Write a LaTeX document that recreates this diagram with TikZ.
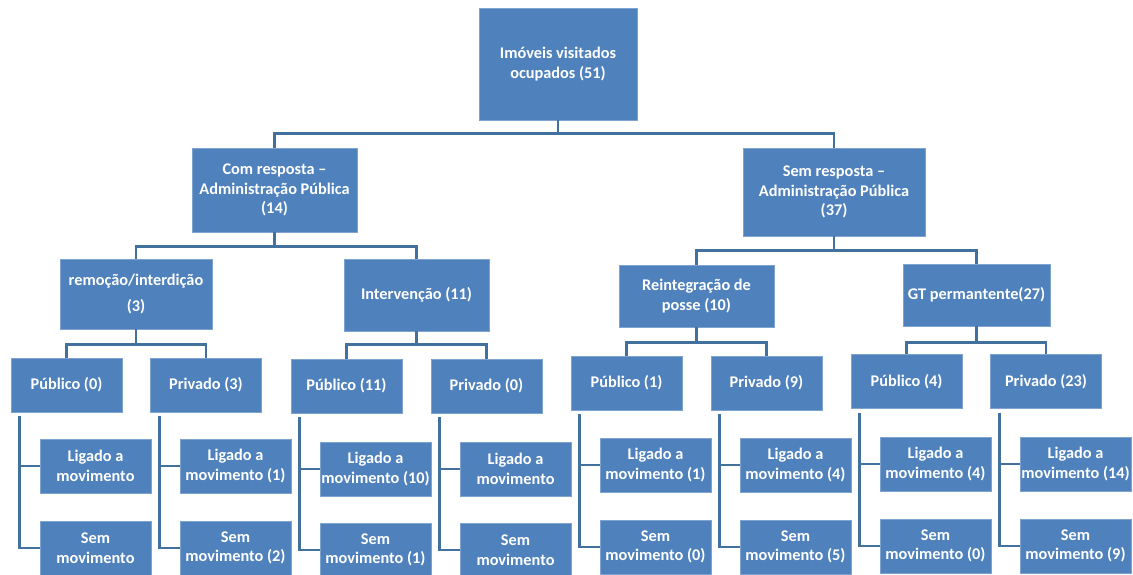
\documentclass[tikz,border=0pt]{standalone}
\usepackage{fontspec}
\setmainfont{Carlito}
\definecolor{boxblue}{HTML}{4F81BD}
\definecolor{edgeblue}{HTML}{7FA3D1}
\definecolor{lineblue}{HTML}{41719C}
\begin{document}
\begin{tikzpicture}[x=1pt,y=-1pt,
  box/.style={draw=edgeblue,line width=0.6pt,fill=boxblue,text=white,align=center,
    inner sep=1pt,font=\bfseries\fontsize{16.3}{19.5}\selectfont},
  small/.style={box,minimum width=111pt,minimum height=54pt},
  link/.style={draw=lineblue,line width=2.6pt}]
\clip (0,0) rectangle (1133,574);
\fill[white] (0,0) rectangle (1133,574);
% level 0
\node[box,minimum width=158pt,minimum height=112pt] (root) at (558,64) {Imóveis visitados\\ocupados (51)};
% level 1
\node[box,minimum width=165pt,minimum height=84pt] (com) at (274.5,190) {Com resposta –\\Administração Pública\\(14)};
\node[box,minimum width=182pt,minimum height=88pt] (sem) at (834,192) {Sem resposta –\\Administração Pública\\(37)};
% level 2
\node[box,minimum width=152pt,minimum height=70pt] (rem) at (136,294) {remoção/interdição\\[6pt](3)};
\node[box,minimum width=145pt,minimum height=72pt] (int) at (416.5,295) {Intervenção (11)};
\node[box,minimum width=155pt,minimum height=62pt] (rei) at (696.5,296) {Reintegração de\\posse (10)};
\node[box,minimum width=147pt,minimum height=62pt] (gt) at (976.5,295) {GT permantente(27)};
% level 3
\node[small] (pa) at (66.5,385) {Público (0)};
\node[small] (va) at (206,385) {Privado (3)};
\node[small] (pb) at (346.5,386) {Público (11)};
\node[small] (vb) at (486.5,386) {Privado (0)};
\node[small] (pc) at (626.5,383) {Público (1)};
\node[small] (vc) at (766.5,383) {Privado (9)};
\node[small] (pd) at (906.5,381.5) {Público (4)};
\node[small] (vd) at (1046,381.5) {Privado (23)};
% leaves
\node[small] (pal) at (95.5,466) {Ligado a\\movimento};
\node[small] (pas) at (95.5,548) {Sem\\movimento};
\node[small] (val) at (235.5,466) {Ligado a\\movimento (1)};
\node[small] (vas) at (235.5,548) {Sem\\movimento (2)};
\node[small] (pbl) at (375.5,469) {Ligado a\\movimento (10)};
\node[small] (pbs) at (375.5,550) {Sem\\movimento (1)};
\node[small] (vbl) at (515.5,469) {Ligado a\\movimento};
\node[small] (vbs) at (515.5,550) {Sem\\movimento};
\node[small] (pcl) at (655.5,465) {Ligado a\\movimento (1)};
\node[small] (pcs) at (655.5,547) {Sem\\movimento (0)};
\node[small] (vcl) at (795.5,465) {Ligado a\\movimento (4)};
\node[small] (vcs) at (795.5,547) {Sem\\movimento (5)};
\node[small] (pdl) at (935.5,464) {Ligado a\\movimento (4)};
\node[small] (pds) at (935.5,546) {Sem\\movimento (0)};
\node[small] (vdl) at (1075.5,464) {Ligado a\\movimento (14)};
\node[small] (vds) at (1075.5,546) {Sem\\movimento (9)};
% connectors
\draw[link] (root.south) -- ++(0,-13pt) -| (com.north);
\draw[link] (root.south) -- ++(0,-13pt) -| (sem.north);
\draw[link] (com.south) -- ++(0,-14pt) -| (rem.north);
\draw[link] (com.south) -- ++(0,-14pt) -| (int.north);
\draw[link] (sem.south) -- ++(0,-14pt) -| (rei.north);
\draw[link] (sem.south) -- ++(0,-14pt) -| (gt.north);
\draw[link] (rem.south) -- ++(0,-15pt) -| (pa.north);
\draw[link] (rem.south) -- ++(0,-15pt) -| (va.north);
\draw[link] (int.south) -- ++(0,-13pt) -| (pb.north);
\draw[link] (int.south) -- ++(0,-13pt) -| (vb.north);
\draw[link] (rei.south) -- ++(0,-15pt) -| (pc.north);
\draw[link] (rei.south) -- ++(0,-15pt) -| (vc.north);
\draw[link] (gt.south) -- ++(0,-16pt) -| (pd.north);
\draw[link] (gt.south) -- ++(0,-16pt) -| (vd.north);
\foreach \p/\a/\b in {pa/pal/pas,va/val/vas,pb/pbl/pbs,vb/vbl/vbs,pc/pcl/pcs,vc/vcl/vcs,pd/pdl/pds,vd/vdl/vds}{
  \draw[link] ([xshift=9pt,yshift=-4pt]\p.south west) |- (\a.west);
  \draw[link] ([xshift=9pt,yshift=-4pt]\p.south west) |- (\b.west);
}
\end{tikzpicture}
\end{document}
